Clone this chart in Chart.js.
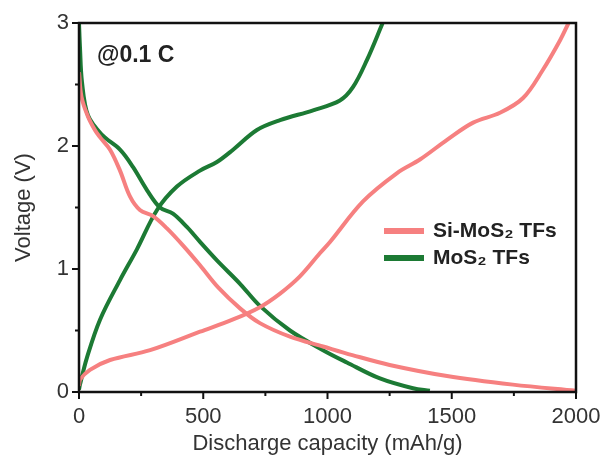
<!DOCTYPE html>
<html>
<head>
<meta charset="utf-8">
<script src="https://cdn.jsdelivr.net/npm/chart.js@4/dist/chart.umd.min.js"></script>
<style>
  html, body { margin: 0; padding: 0; background: #fff; }
  #wrap { width: 601px; height: 466px; }
</style>
</head>
<body>
<div id="wrap"><canvas id="gcdChart" width="601" height="466"></canvas></div>
<script>
// Si-MoS2 thin film, first discharge / charge (capacity in mAh/g, voltage in V)
const siDisCap = [0, 10, 36, 64, 85, 125, 165, 205, 245, 298, 354, 419, 487, 560, 648, 728, 849, 982, 1100, 1250, 1481, 1746, 2000];
const siDisV   = [2.60, 2.40, 2.24, 2.13, 2.07, 1.97, 1.80, 1.59, 1.48, 1.43, 1.33, 1.19, 1.03, 0.85, 0.68, 0.56, 0.45, 0.37, 0.30, 0.22, 0.13, 0.06, 0.01];
const siChgCap = [0, 4, 44, 125, 286, 487, 620, 728, 809, 889, 970, 1010, 1143, 1280, 1372, 1481, 1586, 1694, 1787, 1867, 1936, 1970];
const siChgV   = [0.05, 0.10, 0.18, 0.26, 0.34, 0.49, 0.59, 0.69, 0.80, 0.94, 1.13, 1.22, 1.55, 1.78, 1.89, 2.05, 2.19, 2.27, 2.39, 2.62, 2.86, 3.0];

// MoS2 thin film, first discharge / charge
const moDisCap = [0, 4, 12, 36, 93, 165, 217, 274, 326, 378, 435, 487, 555, 648, 728, 849, 982, 1078, 1211, 1344, 1412];
const moDisV   = [3.0, 2.80, 2.52, 2.25, 2.09, 1.97, 1.83, 1.64, 1.50, 1.45, 1.34, 1.22, 1.07, 0.88, 0.70, 0.50, 0.34, 0.24, 0.11, 0.03, 0.01];
const moChgCap = [0, 4, 32, 85, 165, 233, 314, 394, 487, 555, 620, 716, 809, 942, 1050, 1103, 1159, 1222];
const moChgV   = [0.02, 0.06, 0.28, 0.59, 0.91, 1.16, 1.48, 1.67, 1.80, 1.87, 1.97, 2.13, 2.21, 2.29, 2.37, 2.48, 2.70, 3.0];

const xTicks = [0, 500, 1000, 1500, 2000];
const yTicks = [0, 1, 2, 3];
const seriesNames = ['Si-MoS\u2082 TFs', 'MoS\u2082 TFs'];
const rateLabel = '@0.1 C';

const pink = 'rgb(246, 128, 128)';
const green = 'rgb(28, 122, 52)';
const fontFamily = '"Liberation Sans", Arial, sans-serif';

function toPoints(xs, ys) {
  return xs.map((x, i) => ({ x: x, y: ys[i] }));
}

function curve(label, xs, ys, color) {
  return {
    label: label,
    data: toPoints(xs, ys),
    showLine: true,
    borderColor: color,
    backgroundColor: color,
    borderWidth: 4,
    pointRadius: 0,
    tension: 0.35,
    fill: false
  };
}

// box frame, minor/major ticks, rate label and the inline legend
const framePlugin = {
  id: 'frame',
  afterDraw(chart) {
    const { ctx, chartArea: a, scales } = chart;
    ctx.save();
    ctx.strokeStyle = '#111';
    ctx.lineWidth = 2.5;
    ctx.strokeRect(a.left, a.top, a.right - a.left, a.bottom - a.top);

    ctx.lineWidth = 2;
    for (let v = 0; v <= 2000; v += 250) {
      const px = scales.x.getPixelForValue(v);
      const len = v % 500 === 0 ? 7 : 4;
      ctx.beginPath();
      ctx.moveTo(px, a.bottom);
      ctx.lineTo(px, a.bottom + len);
      ctx.stroke();
    }
    for (let v = 0; v <= 3; v += 0.5) {
      const py = scales.y.getPixelForValue(v);
      const len = v % 1 === 0 ? 7 : 4;
      ctx.beginPath();
      ctx.moveTo(a.left, py);
      ctx.lineTo(a.left - len, py);
      ctx.stroke();
    }

    ctx.fillStyle = '#222';
    ctx.font = 'bold 23px ' + fontFamily;
    ctx.textBaseline = 'middle';
    ctx.textAlign = 'left';
    ctx.fillText(rateLabel, 97, 56);

    const items = [[seriesNames[0], pink], [seriesNames[1], green]];
    items.forEach((it, i) => {
      const y = 231 + i * 27;
      ctx.strokeStyle = it[1];
      ctx.lineWidth = 6;
      ctx.beginPath();
      ctx.moveTo(384, y);
      ctx.lineTo(424, y);
      ctx.stroke();
      ctx.fillStyle = '#222';
      ctx.font = 'bold 21px ' + fontFamily;
      ctx.fillText(it[0], 433, y);
    });
    ctx.restore();
  }
};

new Chart(document.getElementById('gcdChart').getContext('2d'), {
  type: 'scatter',
  data: {
    datasets: [
      curve(seriesNames[0], siDisCap, siDisV, pink),
      curve(seriesNames[0], siChgCap, siChgV, pink),
      curve(seriesNames[1], moDisCap, moDisV, green),
      curve(seriesNames[1], moChgCap, moChgV, green)
    ]
  },
  options: {
    responsive: false,
    animation: false,
    layout: { padding: { top: 23, right: 25, left: 5, bottom: 5 } },
    plugins: {
      legend: { display: false },
      tooltip: { enabled: false }
    },
    scales: {
      x: {
        type: 'linear',
        min: 0,
        max: 2000,
        afterBuildTicks: s => { s.ticks = xTicks.map(v => ({ value: v })); },
        afterFit: s => { s.height = 69; s.paddingLeft = 0; s.paddingRight = 0; },
        grid: { display: false, drawTicks: false },
        border: { display: false },
        ticks: {
          padding: 12,
          color: '#333',
          callback: v => String(v),
          font: { size: 22, family: fontFamily }
        },
        title: {
          display: true,
          text: 'Discharge capacity (mAh/g)',
          color: '#333',
          padding: { top: 0 },
          font: { size: 22, family: fontFamily }
        }
      },
      y: {
        type: 'linear',
        min: 0,
        max: 3,
        afterBuildTicks: s => { s.ticks = yTicks.map(v => ({ value: v })); },
        afterFit: s => { s.width = 74; s.paddingTop = 0; s.paddingBottom = 0; },
        grid: { display: false, drawTicks: false },
        border: { display: false },
        ticks: {
          padding: 10,
          color: '#333',
          font: { size: 22, family: fontFamily }
        },
        title: {
          display: true,
          text: 'Voltage (V)',
          color: '#333',
          padding: { top: 6, bottom: 0 },
          font: { size: 22, family: fontFamily }
        }
      }
    }
  },
  plugins: [framePlugin]
});
</script>
</body>
</html>
